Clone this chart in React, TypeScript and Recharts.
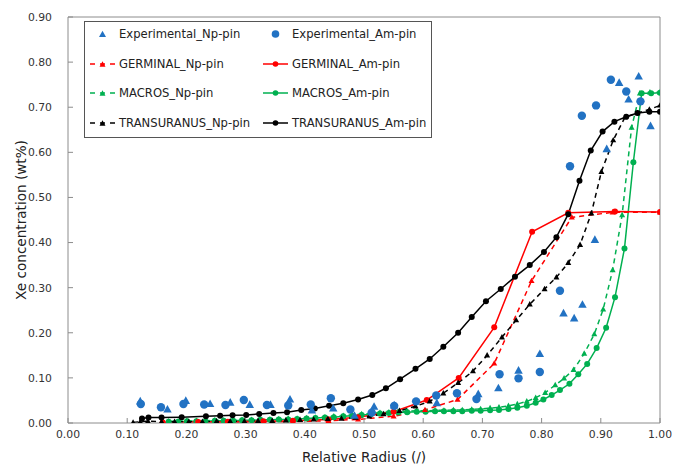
import React from "react";
import {
  ComposedChart,
  Line,
  Scatter,
  XAxis,
  YAxis,
  ReferenceLine,
} from "recharts";

const BLUE = "#2272C3";
const RED = "#FF0000";
const GREEN = "#00B050";
const BLACK = "#000000";
const AXIS = "#8c8c8c";
const FONT = "'DejaVu Sans', Verdana, sans-serif";

const xTicks = [0, 0.1, 0.2, 0.3, 0.4, 0.5, 0.6, 0.7, 0.8, 0.9, 1.0];
const yTicks = [0, 0.1, 0.2, 0.3, 0.4, 0.5, 0.6, 0.7, 0.8, 0.9];

// [relative radius, Xe wt%]
const expNp: [number, number][] = [
  [0.122, 0.048], [0.168, 0.03], [0.199, 0.049], [0.24, 0.042], [0.274, 0.045],
  [0.307, 0.04], [0.342, 0.04], [0.375, 0.052], [0.412, 0.028], [0.448, 0.032],
  [0.484, 0.016], [0.517, 0.036], [0.551, 0.039], [0.623, 0.044], [0.693, 0.064],
  [0.727, 0.077], [0.761, 0.116], [0.797, 0.153], [0.837, 0.243], [0.855, 0.232],
  [0.869, 0.262], [0.89, 0.406], [0.91, 0.607], [0.931, 0.754], [0.947, 0.717],
  [0.964, 0.768], [0.984, 0.658],
];

const expAm: [number, number][] = [
  [0.123, 0.042], [0.157, 0.035], [0.195, 0.042], [0.23, 0.041], [0.266, 0.04],
  [0.297, 0.051], [0.336, 0.04], [0.372, 0.039], [0.41, 0.041], [0.444, 0.055],
  [0.477, 0.03], [0.513, 0.023], [0.551, 0.038], [0.588, 0.048], [0.622, 0.061],
  [0.657, 0.066], [0.69, 0.053], [0.729, 0.108], [0.761, 0.099], [0.797, 0.113],
  [0.831, 0.293], [0.848, 0.569], [0.868, 0.681], [0.892, 0.704], [0.917, 0.761],
  [0.943, 0.735], [0.967, 0.713],
];

const germinalNp: [number, number][] = [
  [0.16, 0.0], [0.22, 0.001], [0.27, 0.001], [0.33, 0.002], [0.38, 0.003],
  [0.44, 0.005], [0.49, 0.008], [0.55, 0.015], [0.603, 0.029], [0.658, 0.052],
  [0.72, 0.132], [0.783, 0.315], [0.851, 0.456], [0.92, 0.467], [1.0, 0.467],
];

const germinalAm: [number, number][] = [
  [0.16, 0.001], [0.22, 0.002], [0.27, 0.003], [0.33, 0.004], [0.38, 0.005],
  [0.44, 0.008], [0.49, 0.013], [0.55, 0.025], [0.606, 0.051], [0.66, 0.1],
  [0.72, 0.212], [0.784, 0.424], [0.845, 0.466], [0.924, 0.469], [1.0, 0.468],
];

const macrosNp: [number, number][] = [
  [0.17, 0.004], [0.186, 0.004], [0.201, 0.005], [0.217, 0.005], [0.232, 0.005],
  [0.248, 0.006], [0.263, 0.006], [0.279, 0.006], [0.294, 0.007], [0.31, 0.007],
  [0.325, 0.008], [0.341, 0.008], [0.356, 0.009], [0.372, 0.01], [0.387, 0.01],
  [0.403, 0.011], [0.418, 0.012], [0.434, 0.013], [0.449, 0.015], [0.465, 0.016],
  [0.48, 0.018], [0.496, 0.02], [0.511, 0.021], [0.527, 0.023], [0.542, 0.024],
  [0.558, 0.025], [0.573, 0.026], [0.589, 0.027], [0.604, 0.027], [0.62, 0.028],
  [0.635, 0.028], [0.651, 0.029], [0.666, 0.029], [0.682, 0.03], [0.697, 0.031],
  [0.713, 0.033], [0.728, 0.035], [0.744, 0.038], [0.759, 0.042], [0.775, 0.048],
  [0.79, 0.056], [0.806, 0.067], [0.823, 0.084], [0.838, 0.099], [0.854, 0.118],
  [0.872, 0.154], [0.889, 0.197], [0.904, 0.252], [0.92, 0.339], [0.936, 0.461],
  [0.952, 0.655], [0.966, 0.731], [0.983, 0.733], [1.0, 0.733],
];

const macrosAm: [number, number][] = [
  [0.17, 0.003], [0.186, 0.003], [0.201, 0.004], [0.217, 0.004], [0.232, 0.004],
  [0.248, 0.005], [0.263, 0.005], [0.279, 0.005], [0.294, 0.006], [0.31, 0.006],
  [0.325, 0.007], [0.341, 0.007], [0.356, 0.008], [0.372, 0.008], [0.387, 0.009],
  [0.403, 0.01], [0.418, 0.011], [0.434, 0.012], [0.449, 0.013], [0.465, 0.015],
  [0.48, 0.016], [0.496, 0.018], [0.511, 0.019], [0.527, 0.021], [0.542, 0.022],
  [0.558, 0.023], [0.573, 0.024], [0.589, 0.025], [0.604, 0.025], [0.62, 0.026],
  [0.635, 0.026], [0.651, 0.026], [0.666, 0.026], [0.682, 0.027], [0.697, 0.027],
  [0.713, 0.028], [0.728, 0.029], [0.744, 0.031], [0.759, 0.034], [0.775, 0.038],
  [0.79, 0.045], [0.803, 0.052], [0.817, 0.062], [0.831, 0.073], [0.847, 0.087],
  [0.862, 0.108], [0.877, 0.131], [0.893, 0.166], [0.909, 0.211], [0.924, 0.279],
  [0.94, 0.387], [0.955, 0.578], [0.969, 0.731], [0.985, 0.731], [1.0, 0.732],
];

const transuranusNp: [number, number][] = [
  [0.11, 0.001], [0.122, 0.003], [0.135, 0.004], [0.158, 0.003], [0.18, 0.003],
  [0.204, 0.003], [0.227, 0.003], [0.251, 0.004], [0.274, 0.004], [0.298, 0.004],
  [0.321, 0.005], [0.345, 0.005], [0.368, 0.006], [0.392, 0.007], [0.415, 0.008],
  [0.439, 0.009], [0.462, 0.01], [0.486, 0.012], [0.509, 0.015], [0.533, 0.02],
  [0.56, 0.027], [0.587, 0.037], [0.611, 0.048], [0.634, 0.066], [0.659, 0.089],
  [0.684, 0.115], [0.708, 0.15], [0.733, 0.19], [0.757, 0.228], [0.78, 0.263],
  [0.805, 0.297], [0.825, 0.323], [0.845, 0.355], [0.865, 0.395], [0.884, 0.465],
  [0.901, 0.557], [0.921, 0.627], [0.941, 0.678], [0.962, 0.687], [0.982, 0.695],
  [1.0, 0.704],
];

const transuranusAm: [number, number][] = [
  [0.125, 0.01], [0.136, 0.012], [0.158, 0.012], [0.192, 0.013], [0.233, 0.015],
  [0.257, 0.016], [0.278, 0.017], [0.301, 0.018], [0.323, 0.02], [0.347, 0.022],
  [0.37, 0.024], [0.394, 0.029], [0.417, 0.032], [0.441, 0.038], [0.465, 0.044],
  [0.49, 0.052], [0.514, 0.062], [0.537, 0.077], [0.561, 0.097], [0.587, 0.12],
  [0.611, 0.142], [0.634, 0.169], [0.659, 0.2], [0.682, 0.235], [0.706, 0.27],
  [0.731, 0.297], [0.755, 0.324], [0.78, 0.35], [0.804, 0.379], [0.825, 0.412],
  [0.845, 0.463], [0.864, 0.537], [0.883, 0.604], [0.903, 0.646], [0.923, 0.668],
  [0.943, 0.679], [0.962, 0.687], [0.982, 0.69], [1.0, 0.69],
];

const toPts = (arr: [number, number][]) => arr.map(([x, y]) => ({ x, y }));

function Tri({ cx, cy, s, fill }: { cx: number; cy: number; s: number; fill: string }) {
  const h = s * 0.9;
  return (
    <polygon
      points={`${cx},${cy - h * 0.6} ${cx - s / 2},${cy + h * 0.4} ${cx + s / 2},${cy + h * 0.4}`}
      fill={fill}
    />
  );
}

const triDot = (fill: string, s: number) => (p: any) => {
  if (p.cx == null || p.cy == null) return <g key={p.index} />;
  return <Tri key={p.index} cx={p.cx} cy={p.cy} s={s} fill={fill} />;
};

const circDot = (fill: string, r: number) => (p: any) => {
  if (p.cx == null || p.cy == null) return <g key={p.index} />;
  return <circle key={p.index} cx={p.cx} cy={p.cy} r={r} fill={fill} />;
};

type LegendItem = { label: string; color: string; kind: "tri" | "circ"; line: "none" | "dash" | "solid" };

const legendRows: LegendItem[][] = [
  [
    { label: "Experimental_Np-pin", color: BLUE, kind: "tri", line: "none" },
    { label: "Experimental_Am-pin", color: BLUE, kind: "circ", line: "none" },
  ],
  [
    { label: "GERMINAL_Np-pin", color: RED, kind: "tri", line: "dash" },
    { label: "GERMINAL_Am-pin", color: RED, kind: "circ", line: "solid" },
  ],
  [
    { label: "MACROS_Np-pin", color: GREEN, kind: "tri", line: "dash" },
    { label: "MACROS_Am-pin", color: GREEN, kind: "circ", line: "solid" },
  ],
  [
    { label: "TRANSURANUS_Np-pin", color: BLACK, kind: "tri", line: "dash" },
    { label: "TRANSURANUS_Am-pin", color: BLACK, kind: "circ", line: "solid" },
  ],
];

function LegendSymbol({ item }: { item: LegendItem }) {
  return (
    <svg width={25} height={14} style={{ display: "block" }}>
      {item.line !== "none" && (
        <line
          x1={0}
          x2={25}
          y1={7}
          y2={7}
          stroke={item.color}
          strokeWidth={1.5}
          strokeDasharray={item.line === "dash" ? "5 5" : undefined}
        />
      )}
      {item.kind === "tri" ? (
        <Tri cx={12.5} cy={7.5} s={item.line === "none" ? 7 : 6} fill={item.color} />
      ) : (
        <circle cx={12.5} cy={7} r={item.line === "none" ? 3.8 : 2.8} fill={item.color} />
      )}
    </svg>
  );
}

function ChartLegend() {
  return (
    <div
      style={{
        position: "absolute",
        left: 84,
        top: 21,
        width: 348,
        height: 117,
        border: "1px solid #555",
        background: "#fff",
        boxSizing: "border-box",
        fontFamily: FONT,
        fontSize: 11.6,
        color: "#222",
      }}
    >
      {legendRows.map((row, i) =>
        row.map((item, j) => (
          <div
            key={item.label}
            style={{
              position: "absolute",
              top: 4 + i * 29.7,
              left: j === 0 ? 5 : 178,
              height: 16,
              display: "flex",
              alignItems: "center",
              whiteSpace: "nowrap",
            }}
          >
            <LegendSymbol item={item} />
            <span style={{ marginLeft: 4 }}>{item.label}</span>
          </div>
        ))
      )}
    </div>
  );
}

export default function App() {
  const tickStyle = { fontFamily: FONT, fontSize: 10.8, fill: "#333" };
  return (
    <div style={{ position: "relative", width: 673, height: 465, background: "#fff" }}>
      <style>{`body{margin:0}`}</style>
      <ComposedChart
        width={673}
        height={465}
        margin={{ top: 17, right: 13, bottom: 0, left: 0 }}
      >
        <XAxis
          type="number"
          dataKey="x"
          domain={[0, 1]}
          ticks={xTicks}
          tickFormatter={(v: number) => v.toFixed(2)}
          allowDataOverflow
          height={42}
          stroke={AXIS}
          tickSize={-5}
          tickMargin={12}
          tick={tickStyle}
          label={{
            value: "Relative Radius (/)",
            position: "insideBottom",
            offset: 3,
            style: { fontFamily: FONT, fontSize: 13.6, fill: "#222" },
          }}
        />
        <YAxis
          type="number"
          domain={[0, 0.9]}
          ticks={yTicks}
          tickFormatter={(v: number) => v.toFixed(2)}
          allowDataOverflow
          width={68}
          stroke={AXIS}
          tickSize={-5}
          tickMargin={21}
          tick={tickStyle}
          label={{
            value: "Xe concentration (wt%)",
            angle: -90,
            position: "insideLeft",
            offset: 21,
            style: { fontFamily: FONT, fontSize: 13.6, fill: "#222", textAnchor: "middle" },
          }}
        />
        <ReferenceLine y={0.9} stroke={AXIS} strokeWidth={1} ifOverflow="extendDomain" />
        <ReferenceLine x={1} stroke={AXIS} strokeWidth={1} ifOverflow="extendDomain" />

        <Line
          data={toPts(macrosNp)}
          dataKey="y"
          stroke={GREEN}
          strokeWidth={1.5}
          strokeDasharray="5 4"
          dot={triDot(GREEN, 6)}
          isAnimationActive={false}
        />
        <Line
          data={toPts(macrosAm)}
          dataKey="y"
          stroke={GREEN}
          strokeWidth={1.5}
          dot={circDot(GREEN, 3)}
          isAnimationActive={false}
        />
        <Line
          data={toPts(germinalNp)}
          dataKey="y"
          stroke={RED}
          strokeWidth={1.5}
          strokeDasharray="5 4"
          dot={triDot(RED, 6)}
          isAnimationActive={false}
        />
        <Line
          data={toPts(germinalAm)}
          dataKey="y"
          stroke={RED}
          strokeWidth={1.5}
          dot={circDot(RED, 3)}
          isAnimationActive={false}
        />
        <Line
          data={toPts(transuranusNp)}
          dataKey="y"
          stroke={BLACK}
          strokeWidth={1.5}
          strokeDasharray="5 4"
          dot={triDot(BLACK, 6)}
          isAnimationActive={false}
        />
        <Line
          data={toPts(transuranusAm)}
          dataKey="y"
          stroke={BLACK}
          strokeWidth={1.5}
          dot={circDot(BLACK, 3)}
          isAnimationActive={false}
        />
        <Scatter
          data={toPts(expNp)}
          dataKey="y"
          fill={BLUE}
          shape={(p: any) => <Tri cx={p.cx} cy={p.cy} s={8.5} fill={BLUE} />}
          isAnimationActive={false}
        />
        <Scatter
          data={toPts(expAm)}
          dataKey="y"
          fill={BLUE}
          shape={(p: any) => <circle cx={p.cx} cy={p.cy} r={4.2} fill={BLUE} />}
          isAnimationActive={false}
        />
      </ComposedChart>
      <ChartLegend />
    </div>
  );
}
